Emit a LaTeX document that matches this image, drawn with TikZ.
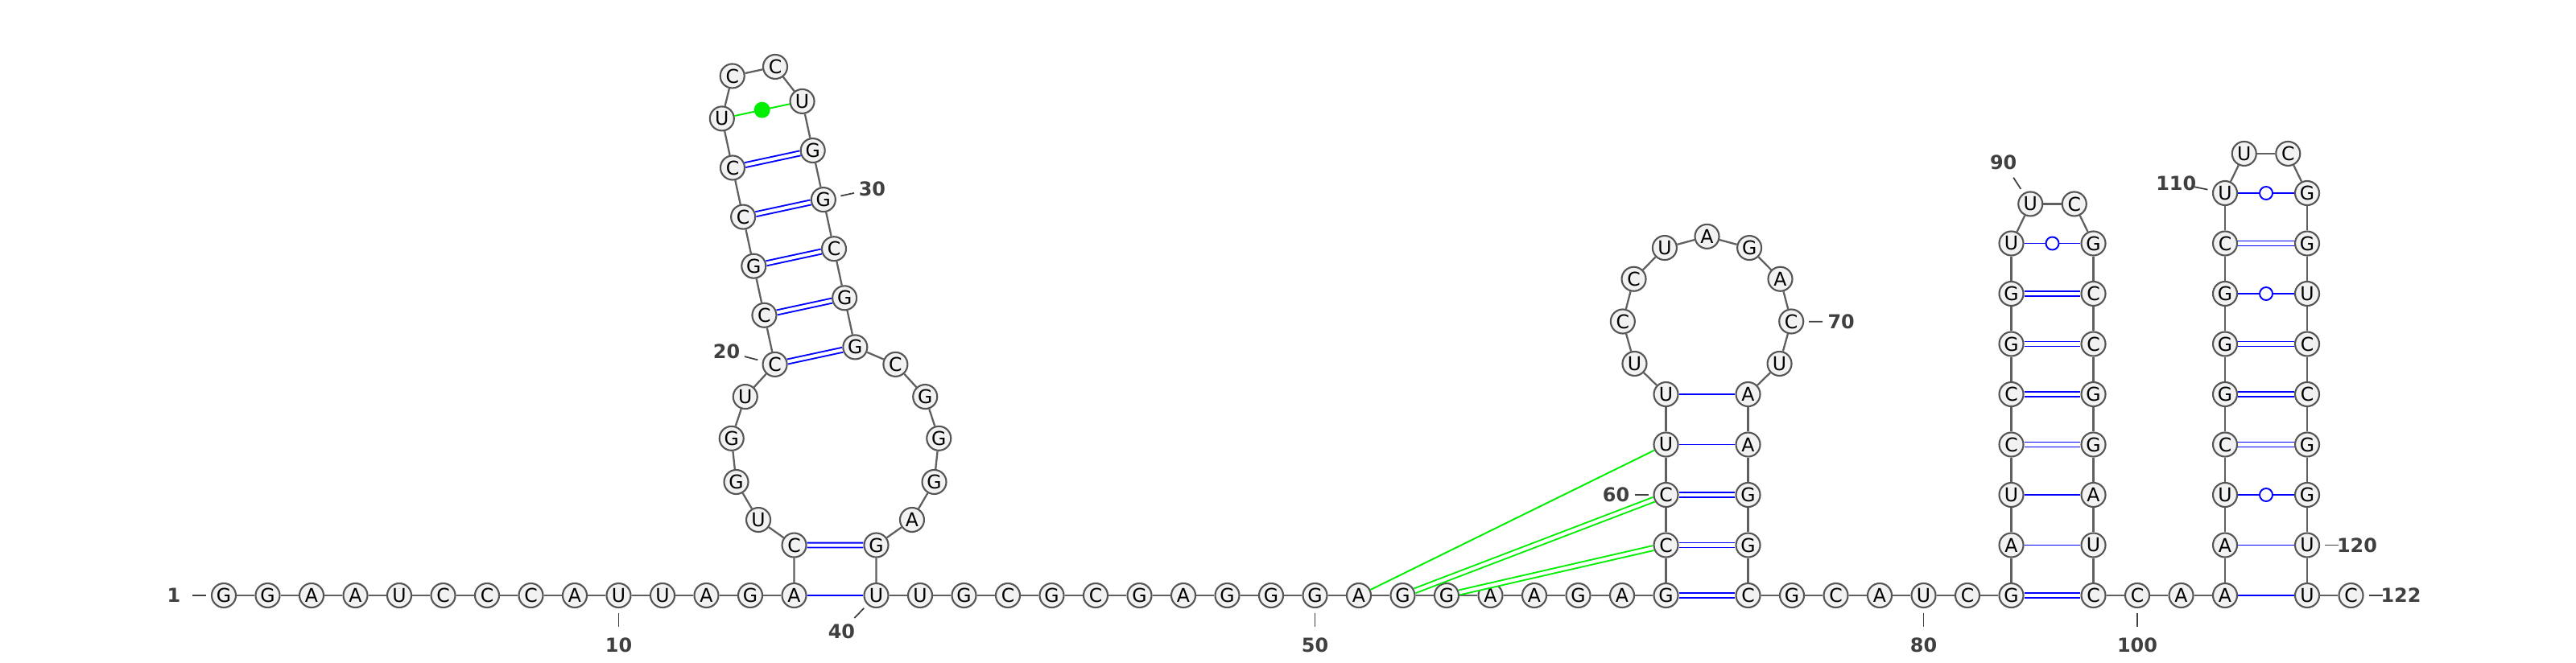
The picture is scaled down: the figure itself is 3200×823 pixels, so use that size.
\documentclass[tikz,border=0pt]{standalone}
\usepackage{fontspec}
\setmainfont{DejaVu Sans}
\usetikzlibrary{calc}
\definecolor{basefill}{HTML}{F2F2F2}
\definecolor{basedraw}{HTML}{555555}
\definecolor{bbgray}{HTML}{606060}
\definecolor{numgray}{HTML}{404040}
\definecolor{pairblue}{HTML}{0000FF}
\definecolor{pkgreen}{HTML}{00EE00}
\begin{document}
\begin{tikzpicture}[x=0.01cm, y=0.01cm,
    base/.style={circle, draw=basedraw, fill=basefill, line width=0.6pt,
                 minimum size=0.3cm, inner sep=0pt,
                 font=\fontsize{6.7}{7}\selectfont},
    num/.style={inner sep=0pt, text=numgray,
                font=\fontsize{6.8}{7}\selectfont\bfseries},
    bb/.style={draw=bbgray, line width=0.65pt},
    au/.style={draw=pairblue, line width=0.55pt},
    gc/.style={draw=pairblue, line width=0.55pt, double=white,
               double distance=1.15pt},
    wob/.style={circle, draw=pairblue, fill=white, line width=0.55pt,
                minimum size=0.16cm, inner sep=0pt},
    pk/.style={draw=pkgreen, line width=0.55pt},
    pkgc/.style={pk, double=white, double distance=1.15pt},
    pkdot/.style={circle, fill=pkgreen, minimum size=0.2cm, inner sep=0pt},
    tick/.style={draw=numgray, line width=0.5pt,
                 shorten <=0.22cm, shorten >=0.23cm},
  ]

  \useasboundingbox (0,0) rectangle (3200,823);

  % 5' strand
  \foreach \i/\nt in {1/G,2/G,3/A,4/A,5/U,6/C,7/C,8/C,9/A,10/U,11/U,12/A,13/G,14/A}
    \node[base] (n\i) at ({278+54.5*(\i-1)}, 83) {\nt};

  % Loop round the first stem
  \coordinate (m1) at (1037.5, 264.5);
  \foreach \i/\nt/\a in {15/C/246.81, 16/U/222.517, 17/G/198.224, 18/G/173.931,
                         19/U/149.638, 20/C/125.345, 33/G/78.955, 34/C/54.662,
                         35/G/30.369, 36/G/6.076, 37/G/-18.217, 38/A/-42.51,
                         39/G/-66.803}
    \node[base] (n\i) at ($(m1)+(\a:129.5)$) {\nt};

  % Tilted hairpin 20--33
  \begin{scope}[shift={(n20.center)}, rotate=12.15]
    \foreach \k/\i/\nt in {1/21/C, 2/22/G, 3/23/C, 4/24/C, 5/25/U}
      \node[base] (n\i) at (0, 62.5*\k) {\nt};
    \foreach \k/\i/\nt in {1/32/G, 2/31/C, 3/30/G, 4/29/G, 5/28/U}
      \node[base] (n\i) at (102, 62.5*\k) {\nt};
    \node[base] (n26) at (23.75, 361.55) {C};
    \node[base] (n27) at (78.25, 361.55) {C};
  \end{scope}

  % Strand 40--58
  \foreach \i/\nt in {40/U,41/U,42/G,43/C,44/G,45/C,46/G,47/A,48/G,49/G,
                      50/G,51/A,52/G,53/G,54/A,55/A,56/G,57/A,58/G}
    \node[base] (n\i) at ({1088.5+54.5*(\i-40)}, 83) {\nt};

  % Hairpin 58--76
  \foreach \k/\i/\nt in {1/59/C, 2/60/C, 3/61/U, 4/62/U}
    \node[base] (n\i) at (2069.5, {83+62.5*\k}) {\nt};
  \foreach \k/\i/\nt in {0/76/C, 1/75/G, 2/74/G, 3/73/A, 4/72/A}
    \node[base] (n\i) at (2171.5, {83+62.5*\k}) {\nt};
  \coordinate (h4) at (2120.5, 424.44);
  \foreach \i/\nt/\a in {63/U/210.68, 64/C/180.51, 65/C/150.34, 66/U/120.17,
                         67/A/90, 68/G/59.83, 69/A/29.66, 70/C/-0.51, 71/U/-30.68}
    \node[base] (n\i) at ($(h4)+(\a:104.7)$) {\nt};

  % Strand 77--81
  \foreach \i/\nt in {77/G,78/C,79/A,80/U,81/C}
    \node[base] (n\i) at ({2171.5+54.5*(\i-76)}, 83) {\nt};

  % Hairpin 82--99
  \foreach \k/\i/\nt in {0/82/G,1/83/A,2/84/U,3/85/C,4/86/C,5/87/G,6/88/G,7/89/U}
    \node[base] (n\i) at (2498.5, {83+62.5*\k}) {\nt};
  \foreach \k/\i/\nt in {0/99/C,1/98/U,2/97/A,3/96/G,4/95/G,5/94/C,6/93/C,7/92/G}
    \node[base] (n\i) at (2600.5, {83+62.5*\k}) {\nt};
  \node[base] (n90) at (2522.25, 569.55) {U};
  \node[base] (n91) at (2576.75, 569.55) {C};

  \node[base] (n100) at (2655, 83) {C};
  \node[base] (n101) at (2709.5, 83) {A};

  % Hairpin 102--121
  \foreach \k/\i/\nt in {0/102/A,1/103/A,2/104/U,3/105/C,4/106/G,5/107/G,6/108/G,
                         7/109/C,8/110/U}
    \node[base] (n\i) at (2764, {83+62.5*\k}) {\nt};
  \foreach \k/\i/\nt in {0/121/U,1/120/U,2/119/G,3/118/G,4/117/C,5/116/C,6/115/U,
                         7/114/G,8/113/G}
    \node[base] (n\i) at (2866, {83+62.5*\k}) {\nt};
  \node[base] (n111) at (2787.75, 632.05) {U};
  \node[base] (n112) at (2842.25, 632.05) {C};

  \node[base] (n122) at (2920.5, 83) {C};

  % Backbone
  \foreach \i in {1,...,121} {
    \pgfmathtruncatemacro\j{\i+1}
    \draw[bb] (n\i) -- (n\j);
  }

  % Base pairs
  \foreach \p/\q in {14/40, 61/73, 62/72, 83/98, 84/97, 102/121, 103/120}
    \draw[au] (n\p) -- (n\q);
  \foreach \p/\q in {15/39, 20/33, 21/32, 22/31, 23/30, 24/29, 58/76, 59/75,
                     60/74, 82/99, 85/96, 86/95, 87/94, 88/93, 105/118, 106/117,
                     107/116, 109/114}
    \draw[gc] (n\p) -- (n\q);
  \foreach \p/\q in {89/92, 104/119, 108/115, 110/113}
    \draw[au] (n\p) -- node[wob] {} (n\q);

  % Non-canonical and pseudoknot pairs
  \draw[pk] (n25) -- node[pkdot] {} (n28);
  \draw[pk] (n51) -- (n61);
  \draw[pkgc] (n52) -- (n60);
  \draw[pkgc] (n53) -- (n59);

  % Numbering
  \foreach \i/\a in {1/180, 10/270, 20/165.4, 30/12.15, 40/226, 50/270, 60/180,
                     70/-0.5, 80/270, 90/122.8, 100/270, 110/168.5, 120/0, 122/0} {
    \node[num] (l\i) at ($(n\i)+(\a:62)$) {\i};
    \draw[tick] (n\i.center) -- (l\i.center);
  }

\end{tikzpicture}
\end{document}
